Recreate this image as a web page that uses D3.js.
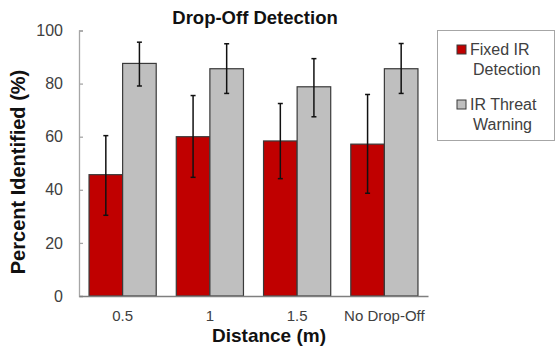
<!DOCTYPE html>
<html>
<head>
<meta charset="utf-8">
<script src="https://cdn.jsdelivr.net/npm/d3@7"></script>
<style>
	body { margin: 0; background: #fff; }
	svg { display: block; font-family: "Liberation Sans", Arial, sans-serif; }
</style>
</head>
<body>
<div id="chart"></div>
<script>
var categories = [ "0.5", "1", "1.5", "No Drop-Off" ];
var seriesNames = [ "Fixed IR Detection", "IR Threat Warning" ];
var fixedIR = [ 45.7, 60.0, 58.4, 57.2 ];
var fixedIRLow = [ 30.4, 44.7, 44.2, 38.7 ];
var fixedIRHigh = [ 60.4, 75.5, 72.5, 75.9 ];
var threat = [ 87.6, 85.6, 78.8, 85.6 ];
var threatLow = [ 79.1, 76.3, 67.5, 76.3 ];
var threatHigh = [ 95.6, 95.0, 89.4, 95.1 ];
var yTicks = [ 0, 20, 40, 60, 80, 100 ];

var colors = [ "#c00000", "#bfbfbf" ];

var svg = d3.select("#chart")
	.append("svg")
	.attr("width", 558)
	.attr("height", 347)
;

var plot = { left: 79, right: 428, top: 30.5, bottom: 296 };

var x = d3.scaleBand().domain(categories).range([plot.left, plot.right]).paddingInner(0.23).paddingOuter(0.115);
var sub = d3.scaleBand().domain([0, 1]).range([0, x.bandwidth()]);
var y = d3.scaleLinear().domain([0, 100]).range([plot.bottom, plot.top]);

var rows = categories.map((c, i) => [
	{ cat: c, s: 0, v: fixedIR[i], lo: fixedIRLow[i], hi: fixedIRHigh[i] },
	{ cat: c, s: 1, v: threat[i], lo: threatLow[i], hi: threatHigh[i] }
]).flat();

// bars
svg.append("g").selectAll("rect")
	.data(rows)
	.enter().append("rect")
		.attr("x", d => x(d.cat) + sub(d.s))
		.attr("y", d => y(d.v))
		.attr("width", sub.bandwidth())
		.attr("height", d => y(0) - y(d.v))
		.attr("fill", d => colors[d.s])
		.attr("stroke", "#3a3a3a")
		.attr("stroke-width", 1.2)
;

// axes
var yAxis = svg.append("g")
	.attr("transform", "translate(" + plot.left + ",0)")
	.call(d3.axisLeft(y).tickValues(yTicks).tickSize(-4).tickPadding(16))
;
yAxis.select(".domain").attr("stroke", "#a6a6a6").attr("stroke-width", 1.3);
yAxis.selectAll(".tick line").attr("stroke", "#a6a6a6").attr("stroke-width", 1.3);
yAxis.selectAll(".tick text")
	.attr("font-size", 16)
	.attr("fill", "#404040")
	.attr("font-family", "Liberation Sans, Arial, sans-serif")
;

var xAxis = svg.append("g")
	.attr("transform", "translate(0," + plot.bottom + ")")
	.call(d3.axisBottom(x).tickSize(0).tickPadding(14).tickSizeOuter(0))
;
xAxis.select(".domain").attr("stroke", "#7f7f7f").attr("stroke-width", 1.5);
xAxis.selectAll(".tick text")
	.attr("font-size", 15)
	.attr("fill", "#404040")
	.attr("font-family", "Liberation Sans, Arial, sans-serif")
;

// error bars
var err = svg.append("g").attr("stroke", "#111").attr("stroke-width", 1.5);
var cx = d => x(d.cat) + sub(d.s) + sub.bandwidth() / 2;
err.selectAll(".stem").data(rows).enter().append("line")
	.attr("x1", cx).attr("x2", cx)
	.attr("y1", d => y(d.lo)).attr("y2", d => y(d.hi))
;
err.selectAll(".capHi").data(rows).enter().append("line")
	.attr("x1", d => cx(d) - 2.5).attr("x2", d => cx(d) + 2.5)
	.attr("y1", d => y(d.hi)).attr("y2", d => y(d.hi))
;
err.selectAll(".capLo").data(rows).enter().append("line")
	.attr("x1", d => cx(d) - 2.5).attr("x2", d => cx(d) + 2.5)
	.attr("y1", d => y(d.lo)).attr("y2", d => y(d.lo))
;

// titles
svg.append("text")
	.attr("x", 255).attr("y", 24)
	.attr("text-anchor", "middle")
	.attr("font-size", 18.5)
	.attr("font-weight", "bold")
	.attr("fill", "#111")
	.text("Drop-Off Detection")
;

svg.append("text")
	.attr("transform", "translate(25,172) rotate(-90)")
	.attr("text-anchor", "middle")
	.attr("font-size", 20)
	.attr("font-weight", "bold")
	.attr("fill", "#111")
	.text("Percent Identified (%)")
;

svg.append("text")
	.attr("x", 269).attr("y", 342)
	.attr("text-anchor", "middle")
	.attr("font-size", 19)
	.attr("font-weight", "bold")
	.attr("fill", "#111")
	.text("Distance (m)")
;

// legend
var legend = svg.append("g");
legend.append("rect")
	.attr("x", 437.5).attr("y", 30.5)
	.attr("width", 117).attr("height", 110)
	.attr("fill", "#fff")
	.attr("stroke", "#a6a6a6")
;
var legendLines = [ [ "Fixed IR", "Detection" ], [ "IR Threat", "Warning" ] ];
var item = legend.selectAll(".item")
	.data(seriesNames)
	.enter().append("g")
		.attr("transform", (d, i) => "translate(457," + (43 + i * 55) + ")")
;
item.append("rect")
	.attr("width", 9).attr("height", 9)
	.attr("y", 2)
	.attr("fill", (d, i) => colors[i])
	.attr("stroke", "#3a3a3a")
;
item.append("text")
	.attr("x", 13).attr("y", 12)
	.attr("font-size", 16)
	.attr("fill", "#404040")
	.selectAll("tspan")
	.data((d, i) => legendLines[i])
	.enter().append("tspan")
		.attr("x", (d, i) => i ? 16 : 13)
		.attr("dy", (d, i) => i ? 20 : 0)
		.text(d => d)
;
</script>
</body>
</html>
